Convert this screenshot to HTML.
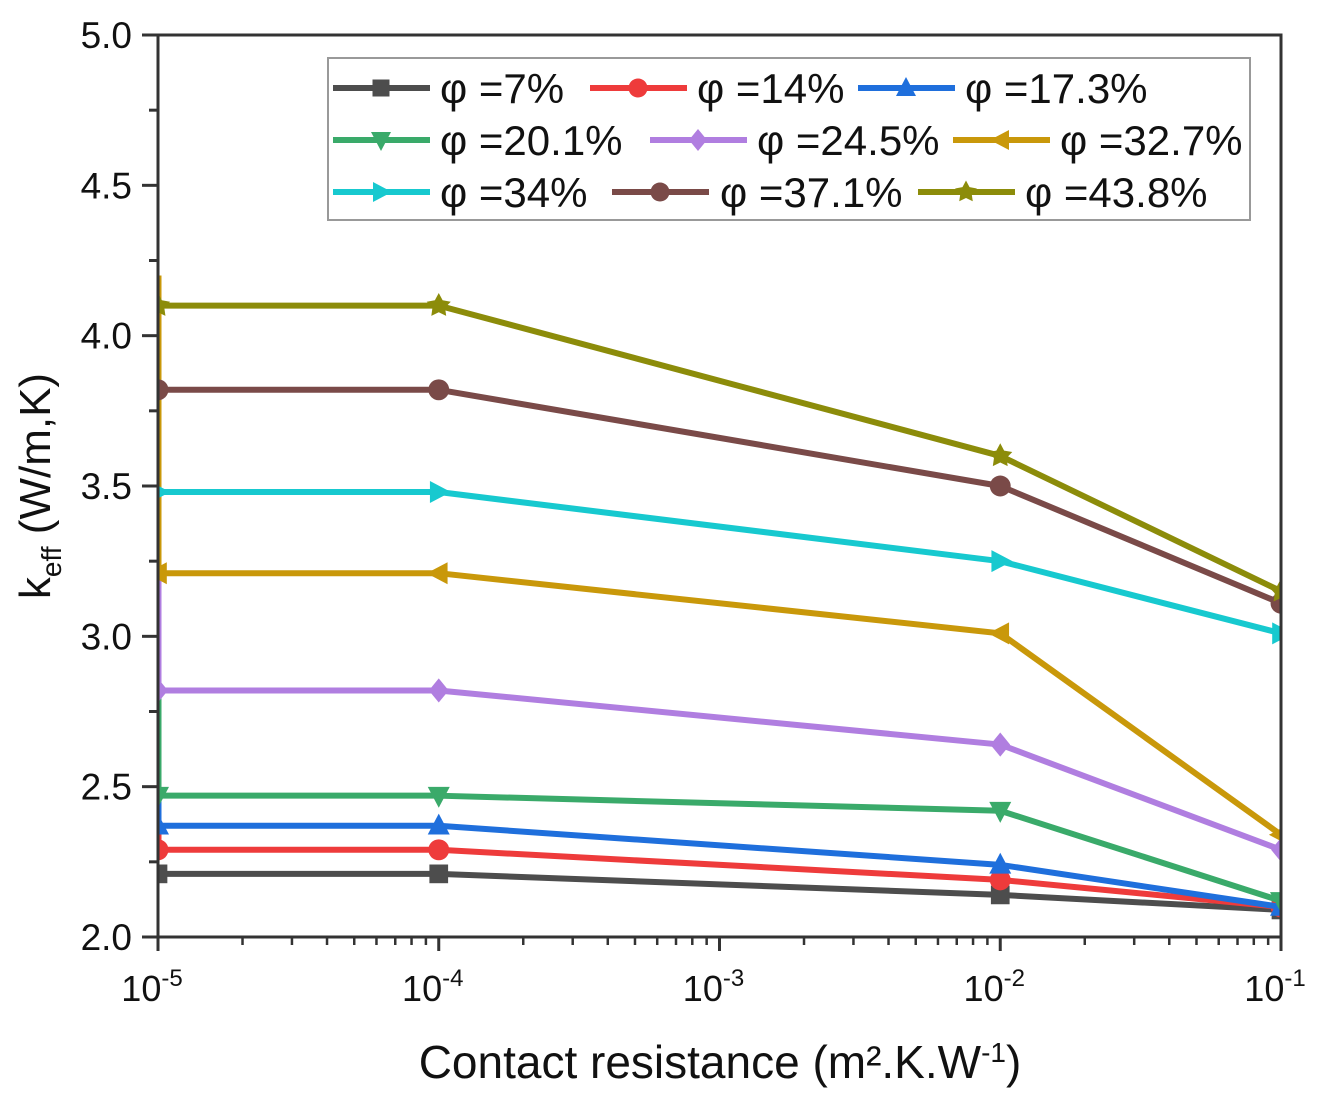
<!DOCTYPE html>
<html><head><meta charset="utf-8"><style>
body{margin:0;background:#fff;}
svg text{font-family:"Liberation Sans",Arial,sans-serif;}
</style></head><body>
<svg id="chart" width="1329" height="1102" viewBox="0 0 1329 1102" xmlns="http://www.w3.org/2000/svg">
<defs><clipPath id="pc"><rect x="158" y="35" width="1123" height="902"/></clipPath></defs>
<g id="plot" clip-path="url(#pc)"></g>
<rect x="158" y="35" width="1123" height="902" fill="none" stroke="#333" stroke-width="3"/>
<g id="axes"></g>
<text x="720" y="1078" font-size="46" text-anchor="middle" fill="#111">Contact resistance (m².K.W<tspan dy="-16" font-size="28">-1</tspan><tspan dy="16">)</tspan></text>
<text transform="translate(50,486) rotate(-90)" font-size="44" text-anchor="middle" fill="#111">k<tspan dy="11" font-size="28">eff</tspan><tspan dy="-11"> (W/m,K)</tspan></text>
<rect x="328" y="58" width="922" height="162" fill="#fff" stroke="#999" stroke-width="2"/>
<g id="legend"></g>
</svg>
<script>
const xValues=[1e-5,1e-4,1e-2,1e-1];
const seriesNames=["φ =7%","φ =14%","φ =17.3%","φ =20.1%","φ =24.5%","φ =32.7%","φ =34%","φ =37.1%","φ =43.8%"];
const s7=[2.21,2.21,2.14,2.09];
const s14=[2.29,2.29,2.19,2.10];
const s173=[2.37,2.37,2.24,2.10];
const s201=[2.47,2.47,2.42,2.12];
const s245=[2.82,2.82,2.64,2.29];
const s327=[3.21,3.21,3.01,2.34];
const s34=[3.48,3.48,3.25,3.01];
const s371=[3.82,3.82,3.50,3.11];
const s438=[4.10,4.10,3.60,3.15];
const seriesValues=[s7,s14,s173,s201,s245,s327,s34,s371,s438];
const yTicks=[2.0,2.5,3.0,3.5,4.0,4.5,5.0];
const xTickExps=[-5,-4,-3,-2,-1];
const colors=["#4d4d4d","#ee3b3b","#1f6fdc","#3aaa6a","#b07ee0","#c9980a","#17c9cf","#7a4a48","#8c8c0a"];
const markers=["square","circle","up","down","diamond","left","right","circle","star"];
const NS="http://www.w3.org/2000/svg";
const X0=158,X1=1281,Y0=937,Y1=35;
function xs(v){return X0+(Math.log10(v)+5)/4*(X1-X0);}
function ys(v){return Y0-(v-2)/3*(Y0-Y1);}
function mk(tag,at,parent){const e=document.createElementNS(NS,tag);for(const k in at)e.setAttribute(k,at[k]);parent.appendChild(e);return e;}
function marker(type,cx,cy,col,parent,r){
  r=r||11;let e;
  if(type==="square")e=mk("rect",{x:cx-r*0.85,y:cy-r*0.85,width:r*1.7,height:r*1.7,fill:col},parent);
  else if(type==="circle")e=mk("circle",{cx:cx,cy:cy,r:r*0.95,fill:col},parent);
  else{let p;
    if(type==="up")p=[[0,-r*1.1],[r,r*0.8],[-r,r*0.8]];
    else if(type==="down")p=[[0,r*1.1],[r,-r*0.8],[-r,-r*0.8]];
    else if(type==="left")p=[[-r*1.1,0],[r*0.8,-r],[r*0.8,r]];
    else if(type==="right")p=[[r*1.1,0],[-r*0.8,-r],[-r*0.8,r]];
    else if(type==="diamond")p=[[0,-r*1.1],[r*0.9,0],[0,r*1.1],[-r*0.9,0]];
    else{p=[];for(let i=0;i<10;i++){const a=-Math.PI/2+i*Math.PI/5,rr=i%2?r*0.6:r*1.15;p.push([rr*Math.cos(a),rr*Math.sin(a)]);}}
    e=mk("polygon",{points:p.map(q=>(cx+q[0])+","+(cy+q[1])).join(" "),fill:col},parent);}
  return e;
}
const plot=document.getElementById("plot");
for(let i=1;i<=5;i++){
  const top=i===5?4.2:seriesValues[i+1][0];
  const l=mk("line",{x1:X0+1,x2:X0+1,y1:ys(seriesValues[i][0]),y2:ys(top),stroke:colors[i],"stroke-width":5},plot);
  
  
}
seriesValues.forEach((vals,i)=>{
  const g=mk("g",{},plot);
  
  
  const pl=mk("polyline",{points:vals.map((v,j)=>xs(xValues[j])+","+ys(v)).join(" "),fill:"none",stroke:colors[i],"stroke-width":6,"stroke-linejoin":"round"},g);
  
  
  vals.forEach((v,j)=>{
    const m=marker(markers[i],xs(xValues[j]),ys(v),colors[i],g);
    
    
  });
});
const axes=document.getElementById("axes");
yTicks.forEach(t=>{
  const y=ys(t);
  mk("line",{x1:X0-16,x2:X0,y1:y,y2:y,stroke:"#333","stroke-width":3},axes);
  const tx=mk("text",{x:X0-26,y:y+13,"font-size":37,"text-anchor":"end",fill:"#111"},axes);
  tx.textContent=t.toFixed(1);
  
  
  if(t<5){const ym=ys(t+0.25);mk("line",{x1:X0-9,x2:X0,y1:ym,y2:ym,stroke:"#333","stroke-width":3},axes);}
});
xTickExps.forEach(e=>{
  const x=xs(Math.pow(10,e));
  mk("line",{x1:x,x2:x,y1:Y0,y2:Y0+14,stroke:"#333","stroke-width":3},axes);
  const tx=mk("text",{x:x-6,y:Y0+64,"font-size":36,"text-anchor":"middle",fill:"#111"},axes);
  tx.innerHTML='10<tspan dy="-15" font-size="24">'+e+'</tspan>';
  
  
  if(e<-1)for(let k=2;k<10;k++){const xm=xs(k*Math.pow(10,e));mk("line",{x1:xm,x2:xm,y1:Y0,y2:Y0+8,stroke:"#333","stroke-width":2.5},axes);}
});
const leg=document.getElementById("legend");
const legPos=[[333,440,88],[590,697,88],[858,965,88],[333,440,140],[650,757,140],[953,1060,140],[333,440,192],[612,720,192],[918,1025,192]];
seriesNames.forEach((n,i)=>{
  const p=legPos[i];
  const g=mk("g",{},leg);
  
  
  mk("line",{x1:p[0],x2:p[0]+97,y1:p[2],y2:p[2],stroke:colors[i],"stroke-width":6},g);
  marker(markers[i],p[0]+48,p[2],colors[i],g,10);
  const t=mk("text",{x:p[1],y:p[2]+15,"font-size":42,fill:"#111"},g);
  t.textContent=n;
});
</script>
</body></html>
